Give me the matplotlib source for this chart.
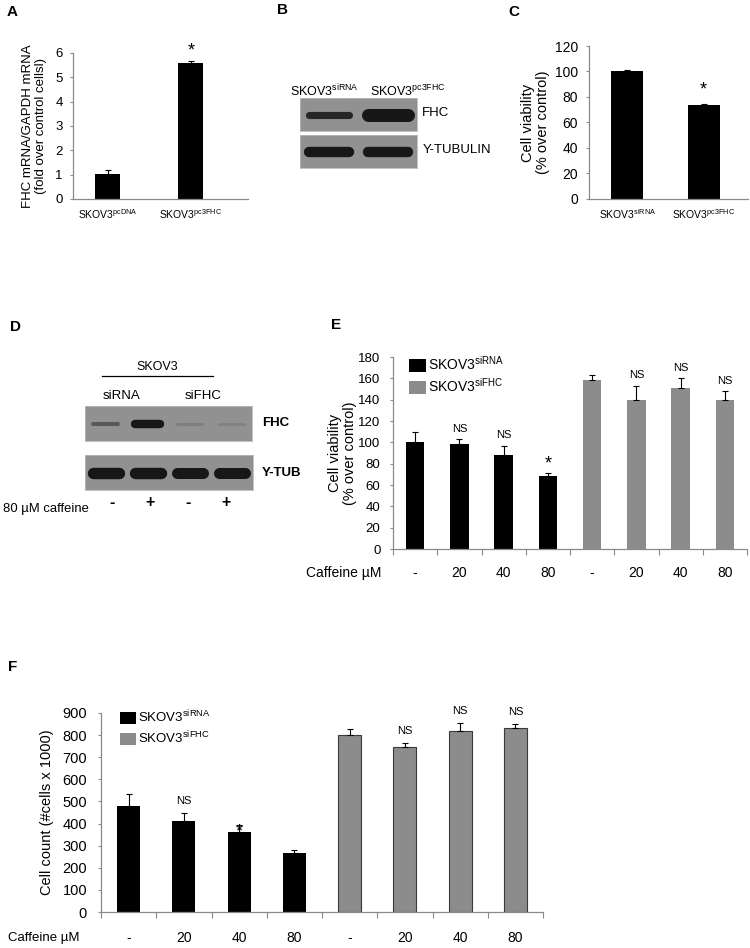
import numpy as np
import matplotlib

matplotlib.use("Agg")

import matplotlib.pyplot as plt
from matplotlib.patches import Patch
from matplotlib.transforms import blended_transform_factory

plt.rcParams["font.family"] = ["Liberation Sans", "DejaVu Sans"]
plt.rcParams["mathtext.fontset"] = "custom"
plt.rcParams["mathtext.rm"] = "Liberation Sans"
plt.rcParams["mathtext.it"] = "Liberation Sans:italic"
plt.rcParams["mathtext.bf"] = "Liberation Sans:bold"

# ---- data ----
a_labels = [r"SKOV3$^{\mathrm{pcDNA}}$", r"SKOV3$^{\mathrm{pc3FHC}}$"]
a_values = [1.03, 5.6]
a_errors = [0.15, 0.08]
a_marks = ["", "*"]

b_lanes = [r"SKOV3$^{\mathrm{siRNA}}$", r"SKOV3$^{\mathrm{pc3FHC}}$"]
b_fhc = [0.55, 1.0]
b_tubulin = [0.8, 0.8]

c_labels = [r"SKOV3$^{\mathrm{siRNA}}$", r"SKOV3$^{\mathrm{pc3FHC}}$"]
c_values = [100, 73.5]
c_errors = [1.5, 1.2]
c_marks = ["", "*"]

d_groups = ["siRNA", "siFHC"]
d_caffeine = ["-", "+", "-", "+"]
d_fhc = [0.3, 0.65, 0.1, 0.08]
d_tub = [0.88, 0.88, 0.85, 0.85]

doses = ["-", "20", "40", "80"]
e_sirna = [100, 98, 88, 68]
e_sirna_err = [10, 5, 9, 3]
e_sifhc = [158, 140, 151, 140]
e_sifhc_err = [5, 13, 9, 8]
e_marks = ["", "NS", "NS", "*", "", "NS", "NS", "NS"]

f_sirna = [480, 410, 360, 265]
f_sirna_err = [55, 40, 35, 15]
f_sifhc = [800, 748, 818, 830]
f_sifhc_err = [28, 18, 35, 22]
f_marks = ["", "NS", "*", "", "", "NS", "NS", "NS"]

series_names = [r"SKOV3$^{\mathrm{siRNA}}$", r"SKOV3$^{\mathrm{siFHC}}$"]

# ---- layout helpers (pixel boxes on a 750x948 canvas) ----
W, H = 750, 948
GRAY = "#8c8c8c"
AXIS = "#8a8a8a"
BLOT_BG = np.array([0.57, 0.57, 0.57])
BAND = np.array([0.09, 0.09, 0.09])

fig = plt.figure(figsize=(W / 100, H / 100), dpi=100)


def add_ax(left, top, right, bottom):
    return fig.add_axes([left / W, 1 - bottom / H, (right - left) / W, (bottom - top) / H])


def ftext(x, y, s, **kw):
    kw.setdefault("va", "center")
    fig.text(x / W, 1 - y / H, s, **kw)


def style_axes(ax, pad):
    for side in ["top", "right"]:
        ax.spines[side].set_visible(False)
    for side in ["left", "bottom"]:
        ax.spines[side].set_color(AXIS)
        ax.spines[side].set_linewidth(0.9)
    ax.tick_params(axis="y", direction="out", length=2.5, width=0.8, color=AXIS, pad=pad)


def marks(ax, xs, tops, labels, star_off, ns_off, ns_size, star_size=13):
    for x, top, lab in zip(xs, tops, labels):
        if lab == "*":
            ax.annotate(lab, (x, top), xytext=(0, star_off), textcoords="offset points",
                        ha="center", va="center", fontsize=star_size)
        elif lab:
            ax.annotate(lab, (x, top), xytext=(0, ns_off), textcoords="offset points",
                        ha="center", va="bottom", fontsize=ns_size)


def blot(box, intensities, band_len, t_max=13):
    ax = add_ax(*box)
    ax.set_facecolor(BLOT_BG)
    n = len(intensities)
    ax.set_xlim(-0.5, n - 0.5)
    ax.set_ylim(0, 1)
    ax.set_xticks([])
    ax.set_yticks([])
    for s in ax.spines.values():
        s.set_color("#b8b8b8")
        s.set_linewidth(0.6)
    for i, v in enumerate(intensities):
        dark = min(1.0, 1.6 * v)
        col = BLOT_BG * (1 - dark) + BAND * dark
        thick = max(3.0, t_max * v) * 0.72
        ax.plot([i - band_len / 2, i + band_len / 2], [0.5, 0.5], color=col,
                lw=thick, solid_capstyle="round")
    return ax


# ---- panel A ----
ax_a = add_ax(73, 53, 248, 199)
style_axes(ax_a, pad=5)
xa = np.arange(len(a_values))
ax_a.bar(xa, a_values, width=0.3, color="black")
ax_a.errorbar(xa, a_values, yerr=[np.zeros(len(a_errors)), a_errors], fmt="none",
              ecolor="black", elinewidth=0.8, capsize=2.5, capthick=0.8)
ax_a.set_xlim(-0.42, 1.69)
ax_a.set_ylim(0, 6)
ax_a.set_yticks(range(0, 7))
ax_a.tick_params(axis="y", labelsize=9.5)
ax_a.set_xticks(xa, a_labels, fontsize=7.5)
ax_a.tick_params(axis="x", length=0, pad=6)
ax_a.set_ylabel("FHC mRNA/GAPDH mRNA\n(fold over control cellsl)", fontsize=9.5, labelpad=6,
                linespacing=1.1)
marks(ax_a, xa, np.add(a_values, a_errors), a_marks, 7, 4, 8)

# ---- panel B ----
ax_b1 = blot((300, 98, 417, 131), b_fhc, 0.68)
ax_b2 = blot((300, 135, 417, 168), b_tubulin, 0.68)
ftext(290, 91, b_lanes[0], fontsize=9)
ftext(370, 91, b_lanes[1], fontsize=9)
ax_b1.text(1.045, 0.55, "FHC", transform=ax_b1.transAxes, fontsize=9.5, va="center")
ax_b2.text(1.045, 0.55, "Y-TUBULIN", transform=ax_b2.transAxes, fontsize=9.5, va="center")

# ---- panel C ----
ax_c = add_ax(589, 46, 748, 199)
style_axes(ax_c, pad=5.5)
xc = np.arange(len(c_values))
ax_c.bar(xc, c_values, width=0.42, color="black")
ax_c.errorbar(xc, c_values, yerr=[np.zeros(len(c_errors)), c_errors], fmt="none",
              ecolor="black", elinewidth=0.8, capsize=2.5, capthick=0.8)
ax_c.set_xlim(-0.5, 1.58)
ax_c.set_ylim(0, 120)
ax_c.set_yticks(range(0, 121, 20))
ax_c.tick_params(axis="y", labelsize=10)
ax_c.set_xticks(xc, c_labels, fontsize=7.5)
ax_c.tick_params(axis="x", length=0, pad=6)
ax_c.set_ylabel("Cell viability\n(% over control)", fontsize=10.5, labelpad=3, linespacing=1.1)
marks(ax_c, xc, np.add(c_values, c_errors), c_marks, 10, 4, 8)

# ---- panel D ----
ax_d1 = blot((85, 406, 252, 441), d_fhc, 0.6)
ax_d2 = blot((85, 455, 253, 490), d_tub, 0.62)
ftext(157, 367, "SKOV3", fontsize=9, ha="center")
fig.add_artist(plt.Line2D([102 / W, 213 / W], [1 - 376 / H, 1 - 376 / H], color="black", lw=0.9))
ftext(122, 396, d_groups[0], fontsize=9.5, ha="center")
ftext(203, 396, d_groups[1], fontsize=9.5, ha="center")
ax_d1.text(1.06, 0.5, "FHC", transform=ax_d1.transAxes, fontsize=9.5, fontweight="bold", va="center")
ax_d2.text(1.055, 0.5, "Y-TUB", transform=ax_d2.transAxes, fontsize=9.5, fontweight="bold",
           va="center")
trans_d = blended_transform_factory(ax_d2.transData, ax_d2.transAxes)
for i, sign in enumerate(d_caffeine):
    ax_d2.text(i * 0.9 + 0.15, -0.37, sign, transform=trans_d, ha="center", va="center",
               fontsize=11.5, fontweight="bold")
ftext(3, 509, "80 µM caffeine", fontsize=9.4)


# ---- panels E and F ----
def grouped_panel(box, v1, e1, v2, e2, labels, ylim, step, ylabel, ysize, tick_pad, label_pad,
                  xpad, legend_anchor, legend_size, ns_off, star_off, gray_edge):
    ax = add_ax(*box)
    style_axes(ax, pad=tick_pad)
    n1 = len(v1)
    x1 = np.arange(n1)
    x2 = np.arange(n1, n1 + len(v2))
    ax.bar(x1, v1, width=0.42, color="black", label=series_names[0])
    ax.bar(x2, v2, width=0.42, color=GRAY, label=series_names[1],
           edgecolor="#3a3a3a" if gray_edge else GRAY, linewidth=0.8 if gray_edge else 0)
    xs = np.concatenate([x1, x2])
    vals = np.concatenate([v1, v2])
    errs = np.concatenate([e1, e2])
    ax.errorbar(xs, vals, yerr=[np.zeros(len(errs)), errs], fmt="none", ecolor="black",
                elinewidth=0.8, capsize=2.5, capthick=0.8)
    ax.set_xlim(-0.5, len(xs) - 0.5)
    ax.set_ylim(*ylim)
    ax.set_yticks(np.arange(ylim[0], ylim[1] + 1, step))
    ax.tick_params(axis="y", labelsize=ysize)
    ax.set_xticks(xs, doses + doses, fontsize=10)
    ax.set_xticks(np.arange(-0.5, len(xs)), minor=True)
    ax.tick_params(axis="x", which="major", length=0, pad=xpad)
    ax.tick_params(axis="x", which="minor", length=4, width=0.8, color=AXIS, direction="out")
    ax.set_ylabel(ylabel, fontsize=10.5, labelpad=label_pad, linespacing=1.1)
    marks(ax, xs, vals + errs, labels, star_off, ns_off, 8)
    handles = [Patch(facecolor="black", label=series_names[0]),
               Patch(facecolor=GRAY, label=series_names[1])]
    ax.legend(handles=handles, loc="upper left", bbox_to_anchor=legend_anchor, frameon=False,
              fontsize=legend_size, handlelength=1.2, handleheight=1.05, handletextpad=0.2,
              labelspacing=0.3, borderpad=0, borderaxespad=0)
    return ax


ax_e = grouped_panel((393, 357, 747, 549), e_sirna, e_sirna_err, e_sifhc, e_sifhc_err, e_marks,
                     (0, 180), 20, "Cell viability\n(% over control)", 9.5, 6.5, 1, 12,
                     (0.045, 1.01), 10, 4, 7, False)
ftext(381, 573, "Caffeine µM", fontsize=10, ha="right")

ax_f = grouped_panel((101, 713, 543, 912), f_sirna, f_sirna_err, f_sifhc, f_sifhc_err, f_marks,
                     (0, 900), 100, "Cell count (#cells x 1000)", 10.5, 7.5, 6, 13.5,
                     (0.043, 1.02), 9.5, 5, -5, True)
ftext(8, 938, "Caffeine µM", fontsize=9.5, ha="left")

# ---- panel letters ----
for letter, x, y in [("A", 7, 12), ("B", 277, 10), ("C", 508, 12), ("D", 10, 327),
                     ("E", 331, 325), ("F", 8, 667)]:
    ftext(x, y, letter, fontsize=11, fontweight="bold")

fig.savefig("out.png", dpi=100)
